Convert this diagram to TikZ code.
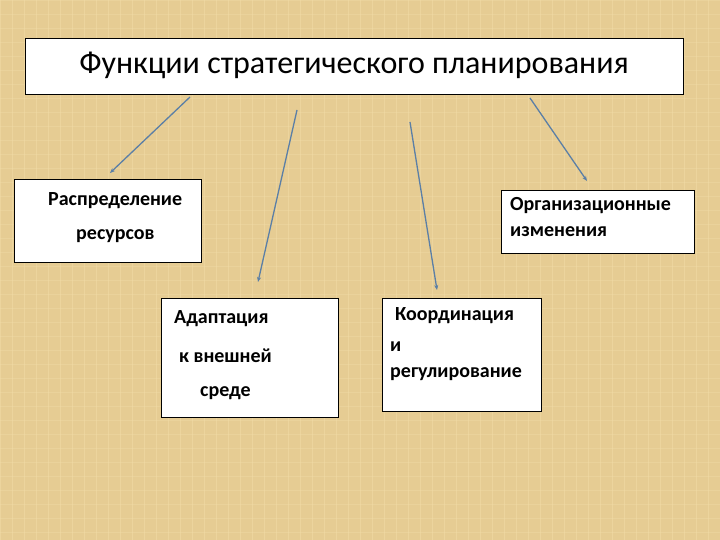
\documentclass[tikz,border=0pt]{standalone}
\usepackage{fontspec}
\setmainfont{Carlito}
\usetikzlibrary{arrows.meta}
\definecolor{bgtan}{HTML}{E6CC93}
\definecolor{bgline}{HTML}{F2DDA8}
\definecolor{arrowblue}{HTML}{5B7FA6}
\tikzset{
  box/.style={draw=black, line width=0.9pt, fill=white, inner sep=0pt},
  lbl/.style={anchor=west, inner sep=0pt, font=\fontsize{20}{24}\selectfont\bfseries, text=black},
  conn/.style={draw=arrowblue, line width=1.3pt, -{Stealth[length=5pt,width=4pt]}}
}
\begin{document}
\begin{tikzpicture}[x=1pt,y=-1pt]
\useasboundingbox (0,0) rectangle (720,540);
\fill[bgtan] (0,0) rectangle (720,540);
\foreach \i in {0,12,...,720} {\draw[bgline, line width=0.6pt, opacity=0.5] (\i,0) -- (\i,540);}
\foreach \j in {0,14,...,540} {\draw[bgline, line width=0.6pt, opacity=0.4] (0,\j) -- (720,\j);}
% boxes
\node[box, minimum width=658pt, minimum height=56pt, anchor=north west] (title) at (25,38) {};
\node[anchor=center, inner sep=0pt, font=\fontsize{32}{36}\selectfont] (titletext) at (354,65) {Функции стратегического планирования};
\node[box, minimum width=187pt, minimum height=83pt, anchor=north west] (res) at (14,179) {};
\node[lbl] (res1) at (48,201) {Распределение};
\node[lbl] (res2) at (76,236) {ресурсов};
\node[box, minimum width=177pt, minimum height=119pt, anchor=north west] (ad) at (161,298) {};
\node[lbl] (ad1) at (174,319) {Адаптация};
\node[lbl] (ad2) at (179,356) {к внешней};
\node[lbl] (ad3) at (200,393) {среде};
\node[box, minimum width=193pt, minimum height=63pt, anchor=north west] (org) at (501,190) {};
\node[lbl] (org1) at (510,206) {Организационные};
\node[lbl] (org2) at (510,232) {изменения};
\node[box, minimum width=159pt, minimum height=113pt, anchor=north west] (co) at (382,298) {};
\node[lbl] (co1) at (395,316) {Координация};
\node[lbl] (co2) at (390,347) {и};
\node[lbl] (co3) at (390,374) {регулирование};
% arrows
\coordinate (a1s) at (190,97);  \coordinate (a1e) at (110,173);
\coordinate (a2s) at (297,110); \coordinate (a2e) at (258,282);
\coordinate (a3s) at (410,122); \coordinate (a3e) at (437,290);
\coordinate (a4s) at (530,98);  \coordinate (a4e) at (587,181);
\draw[conn] (a1s) -- (a1e);
\draw[conn] (a2s) -- (a2e);
\draw[conn] (a3s) -- (a3e);
\draw[conn] (a4s) -- (a4e);
\end{tikzpicture}
\end{document}
